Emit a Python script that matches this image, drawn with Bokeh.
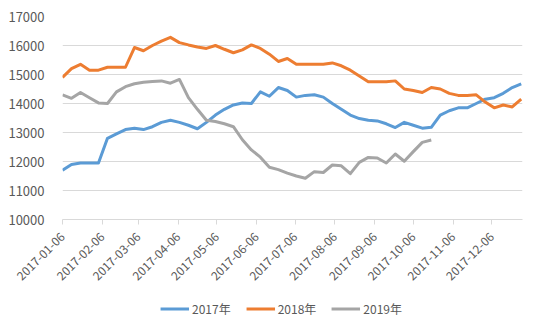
import math
import pandas as pd
from bokeh.plotting import figure
from bokeh.layouts import column
from bokeh.models import (ColumnDataSource, Range1d, FixedTicker, DatetimeTickFormatter,
                          Legend, LegendItem)
from bokeh.embed import file_html
from bokeh.resources import INLINE

# weekly dates (x axis categories)
dates = pd.date_range("2017-01-06", periods=52, freq="7D")

tick_labels = ["2017-01-06", "2017-02-06", "2017-03-06", "2017-04-06", "2017-05-06", "2017-06-06",
               "2017-07-06", "2017-08-06", "2017-09-06", "2017-10-06", "2017-11-06", "2017-12-06"]

series_names = ["2017年", "2018年", "2019年"]

y2017 = [11700, 11900, 11950, 11950, 11950, 12800, 12950, 13100, 13150, 13100,
         13200, 13350, 13420, 13350, 13250, 13130, 13350, 13600, 13800, 13950,
         14020, 14000, 14400, 14250, 14550, 14450, 14220, 14280, 14300, 14220,
         14000, 13800, 13600, 13480, 13420, 13400, 13300, 13170, 13350, 13250,
         13150, 13180, 13600, 13750, 13850, 13850, 14000, 14150, 14200, 14350,
         14550, 14680]

y2018 = [14900, 15200, 15350, 15150, 15150, 15250, 15250, 15250, 15930, 15820,
         16000, 16150, 16280, 16100, 16020, 15950, 15900, 16000, 15870, 15750,
         15850, 16020, 15900, 15700, 15450, 15550, 15350, 15350, 15350, 15350,
         15400, 15300, 15150, 14950, 14750, 14750, 14750, 14780, 14500, 14450,
         14380, 14550, 14500, 14350, 14280, 14280, 14300, 14050, 13850, 13950,
         13880, 14150]

y2019 = [14300, 14180, 14380, 14200, 14020, 14000, 14400, 14580, 14680, 14730,
         14760, 14780, 14700, 14830, 14200, 13800, 13420, 13380, 13300, 13200,
         12750, 12400, 12150, 11800, 11720, 11600, 11500, 11420, 11650, 11620,
         11880, 11850, 11580, 11970, 12140, 12120, 11950, 12260, 12010, 12340,
         12660, 12740]

colors = ["#5B9BD5", "#ED7D31", "#A5A5A5"]
FONT = "Noto Sans CJK SC"
TXT = "#595959"

p = figure(width=550, height=290, x_axis_type="datetime", output_backend="svg",
           toolbar_location=None,
           x_range=Range1d(dates[0], dates[-1] + pd.Timedelta(days=1)),
           y_range=Range1d(10000, 17000),
           min_border_left=62, min_border_right=28, min_border_top=16, min_border_bottom=71)
p.outline_line_color = None

renderers = []
for name, ys, c in zip(series_names, [y2017, y2018, y2019], colors):
    src = ColumnDataSource(dict(x=list(dates[:len(ys)]), y=ys))
    r = p.line("x", "y", source=src, line_color=c, line_width=3, line_join="round")
    renderers.append(r)

# axes
p.xaxis.ticker = FixedTicker(ticks=[pd.Timestamp(t).value / 1e6 for t in tick_labels])
fmt = "%Y-%m-%d"
p.xaxis.formatter = DatetimeTickFormatter(microseconds=fmt, milliseconds=fmt, seconds=fmt,
                                          minsec=fmt, minutes=fmt, hourmin=fmt, hours=fmt,
                                          days=fmt, months=fmt, years=fmt)
p.xaxis.major_label_orientation = math.pi / 4
p.xaxis.axis_line_color = "#D9D9D9"
p.xaxis.major_tick_line_color = "#D9D9D9"
p.xaxis.major_tick_out = 5
p.xaxis.major_tick_in = 0
p.xaxis.minor_tick_line_color = None
p.xaxis.major_label_text_font = FONT
p.xaxis.major_label_text_font_size = "12px"
p.xaxis.major_label_text_color = TXT
p.xaxis.major_label_standoff = 10

p.yaxis.ticker = FixedTicker(ticks=list(range(10000, 17001, 1000)))
p.yaxis.axis_line_color = None
p.yaxis.major_tick_line_color = None
p.yaxis.minor_tick_line_color = None
p.yaxis.major_label_text_font = FONT
p.yaxis.major_label_text_font_size = "13px"
p.yaxis.major_label_text_color = TXT
p.yaxis.major_label_standoff = 12

p.xgrid.grid_line_color = None
p.ygrid.grid_line_color = "#D9D9D9"
p.ygrid.grid_line_width = 1

# legend strip below the chart (proxy lines lie outside the strip's visible range)
lg = figure(width=528, height=36, output_backend="svg", toolbar_location=None,
            x_range=Range1d(0, 1), y_range=Range1d(0, 1),
            x_axis_location=None, y_axis_location=None,
            min_border_left=0, min_border_right=0, min_border_top=0, min_border_bottom=0)
lg.outline_line_color = None
lg.xgrid.grid_line_color = None
lg.ygrid.grid_line_color = None
lg_renderers = []
for c in colors:
    lg_renderers.append(lg.line(x=[-5, -4], y=[-5, -4], line_color=c, line_width=3))

legend = Legend(items=[LegendItem(label=n, renderers=[r]) for n, r in zip(series_names, lg_renderers)],
                orientation="horizontal", location="center",
                label_text_font=FONT, label_text_font_size="12px", label_text_color=TXT,
                glyph_width=29, glyph_height=12, label_standoff=3, spacing=15,
                border_line_color=None, background_fill_alpha=0, margin=0, padding=2)
lg.add_layout(legend, "center")

layout = column(p, lg, spacing=0)
open("out.html", "w").write(file_html(layout, INLINE))
